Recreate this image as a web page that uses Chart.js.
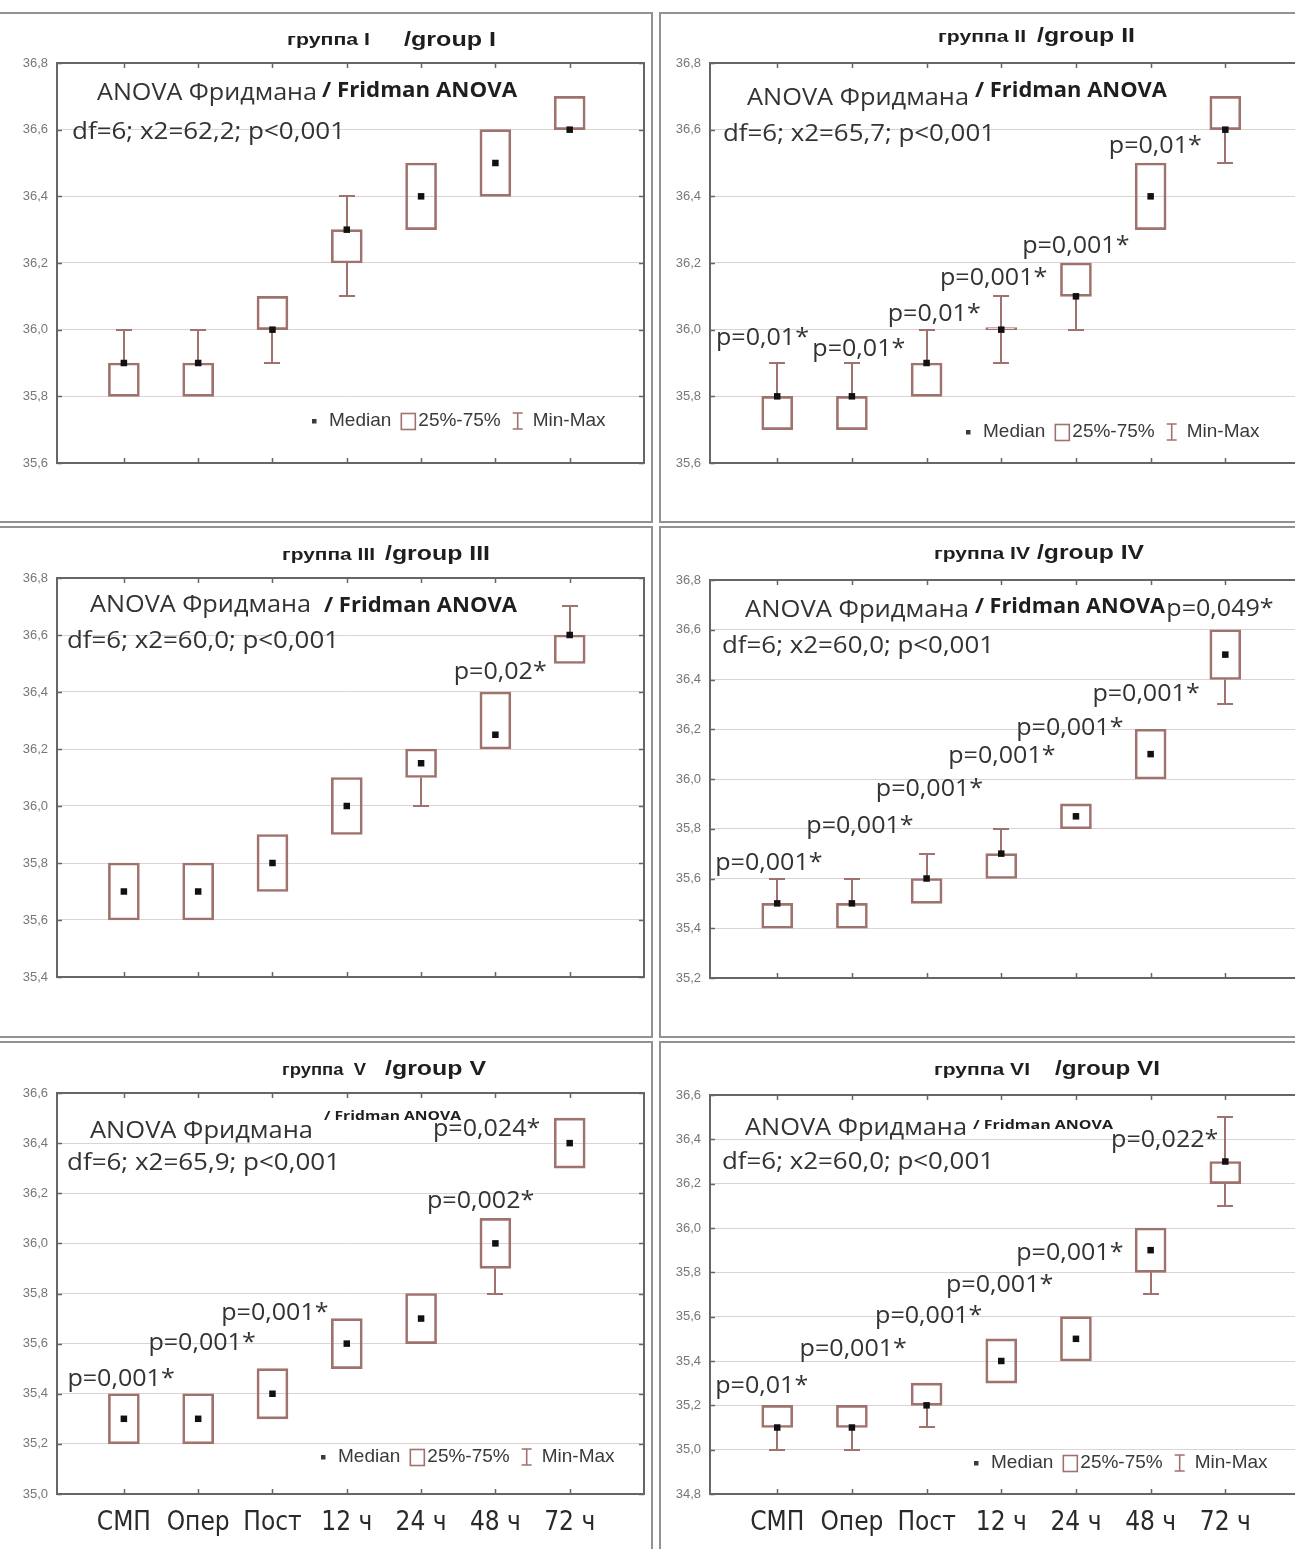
<!DOCTYPE html>
<html>
<head>
<meta charset="utf-8">
<title>Температура тела по группам</title>
<script src="https://cdn.jsdelivr.net/npm/chart.js@4.4.1/dist/chart.umd.min.js"></script>
<style>
  html, body { margin: 0; padding: 0; background: #fff; }
  #page { position: relative; width: 1295px; height: 1549px; overflow: hidden; background: #fff; }
  .frame { position: absolute; box-sizing: border-box; border: 2px solid #929292; }
  canvas { position: absolute; }
</style>
</head>
<body>
<div id="page">
  <div class="frame" style="left:-4px; top:12px;  width:657px; height:511px;"></div>
  <div class="frame" style="left:659px; top:12px;  width:650px; height:511px;"></div>
  <div class="frame" style="left:-4px; top:526px; width:657px; height:512px;"></div>
  <div class="frame" style="left:659px; top:526px; width:650px; height:512px;"></div>
  <div class="frame" style="left:-4px; top:1041px; width:657px; height:520px;"></div>
  <div class="frame" style="left:659px; top:1041px; width:650px; height:520px;"></div>

  <canvas id="g1" style="left:0px;   top:14px;"></canvas>
  <canvas id="g2" style="left:662px; top:14px;"></canvas>
  <canvas id="g3" style="left:0px;   top:528px;"></canvas>
  <canvas id="g4" style="left:662px; top:528px;"></canvas>
  <canvas id="g5" style="left:0px;   top:1043px;"></canvas>
  <canvas id="g6" style="left:662px; top:1043px;"></canvas>
</div>

<script>
// ---- time points (x axis tick labels) ----
const categories = ['СМП', 'Опер', 'Пост', '12 ч', '24 ч', '48 ч', '72 ч'];

// ---- группа I ----
const g1Median = [35.9, 35.9, 36.0, 36.3, 36.4, 36.5, 36.6];
const g1Q1     = [35.8, 35.8, 36.0, 36.2, 36.3, 36.4, 36.6];
const g1Q3     = [35.9, 35.9, 36.1, 36.3, 36.5, 36.6, 36.7];
const g1Min    = [35.8, 35.8, 35.9, 36.1, 36.3, 36.4, 36.6];
const g1Max    = [36.0, 36.0, 36.1, 36.4, 36.5, 36.6, 36.7];
const g1Stat   = 'df=6; x2=62,2; p<0,001';
const g1P      = [];

// ---- группа II ----
const g2Median = [35.8, 35.8, 35.9, 36.0, 36.1, 36.4, 36.6];
const g2Q1     = [35.7, 35.7, 35.8, 36.0, 36.1, 36.3, 36.6];
const g2Q3     = [35.8, 35.8, 35.9, 36.0, 36.2, 36.5, 36.7];
const g2Min    = [35.7, 35.7, 35.8, 35.9, 36.0, 36.3, 36.5];
const g2Max    = [35.9, 35.9, 36.0, 36.1, 36.2, 36.5, 36.7];
const g2Stat   = 'df=6; x2=65,7; p<0,001';
const g2P      = ['p=0,01*', 'p=0,01*', 'p=0,01*', 'p=0,001*', 'p=0,001*', 'p=0,01*'];

// ---- группа III ----
const g3Median = [35.7, 35.7, 35.8, 36.0, 36.15, 36.25, 36.6];
const g3Q1     = [35.6, 35.6, 35.7, 35.9, 36.1, 36.2, 36.5];
const g3Q3     = [35.8, 35.8, 35.9, 36.1, 36.2, 36.4, 36.6];
const g3Min    = [35.6, 35.6, 35.7, 35.9, 36.0, 36.2, 36.5];
const g3Max    = [35.8, 35.8, 35.9, 36.1, 36.2, 36.4, 36.7];
const g3Stat   = 'df=6; x2=60,0; p<0,001';
const g3P      = ['p=0,02*'];

// ---- группа IV ----
const g4Median = [35.5, 35.5, 35.6, 35.7, 35.85, 36.1, 36.5];
const g4Q1     = [35.4, 35.4, 35.5, 35.6, 35.8, 36.0, 36.4];
const g4Q3     = [35.5, 35.5, 35.6, 35.7, 35.9, 36.2, 36.6];
const g4Min    = [35.4, 35.4, 35.5, 35.6, 35.8, 36.0, 36.3];
const g4Max    = [35.6, 35.6, 35.7, 35.8, 35.9, 36.2, 36.6];
const g4Stat   = 'df=6; x2=60,0; p<0,001';
const g4P      = ['p=0,001*', 'p=0,001*', 'p=0,001*', 'p=0,001*', 'p=0,001*', 'p=0,001*', 'p=0,049*'];

// ---- группа V ----
const g5Median = [35.3, 35.3, 35.4, 35.6, 35.7, 36.0, 36.4];
const g5Q1     = [35.2, 35.2, 35.3, 35.5, 35.6, 35.9, 36.3];
const g5Q3     = [35.4, 35.4, 35.5, 35.7, 35.8, 36.1, 36.5];
const g5Min    = [35.2, 35.2, 35.3, 35.5, 35.6, 35.8, 36.3];
const g5Max    = [35.4, 35.4, 35.5, 35.7, 35.8, 36.1, 36.5];
const g5Stat   = 'df=6; x2=65,9; p<0,001';
const g5P      = ['p=0,001*', 'p=0,001*', 'p=0,001*', 'p=0,002*', 'p=0,024*'];

// ---- группа VI ----
const g6Median = [35.1, 35.1, 35.2, 35.4, 35.5, 35.9, 36.3];
const g6Q1     = [35.1, 35.1, 35.2, 35.3, 35.4, 35.8, 36.2];
const g6Q3     = [35.2, 35.2, 35.3, 35.5, 35.6, 36.0, 36.3];
const g6Min    = [35.0, 35.0, 35.1, 35.3, 35.4, 35.7, 36.1];
const g6Max    = [35.2, 35.2, 35.3, 35.5, 35.6, 36.0, 36.5];
const g6Stat   = 'df=6; x2=60,0; p<0,001';
const g6P      = ['p=0,01*', 'p=0,001*', 'p=0,001*', 'p=0,001*', 'p=0,001*', 'p=0,022*'];

// where each p-value label sits: [x in time-point units (left edge), y in °C (middle)]
const g1PAt = [];
const g2PAt = [[-0.82, 35.975], [0.47, 35.94], [1.48, 36.045], [2.18, 36.155], [3.28, 36.25], [4.44, 36.55]];
const g3PAt = [[4.44, 36.467]];
const g4PAt = [[-0.83, 35.662], [0.39, 35.81], [1.32, 35.958], [2.29, 36.089], [3.20, 36.202], [4.22, 36.341], [5.21, 36.683]];
const g5PAt = [[-0.76, 35.458], [0.33, 35.601], [1.31, 35.721], [4.08, 36.169], [4.16, 36.455]];
const g6PAt = [[-0.83, 35.284], [0.30, 35.45], [1.31, 35.60], [2.26, 35.743], [3.20, 35.886], [4.47, 36.397]];

// ---- styling ----
const BOX_COLOR = '#a0726d';
const FRAME_COLOR = '#666';
const GRID_COLOR = '#dcd4d4';
const HUMANIST = '"Open Sans", "Noto Sans", sans-serif';
const ARIAL = '"Liberation Sans", Arial, sans-serif';
const NARROW = '"Liberation Sans Narrow", "DejaVu Sans Condensed", "Liberation Sans", sans-serif';
const P_FONT = '23px ' + HUMANIST;
const P_STRETCH = 1.09;

const panels = [
  { id: 'g1', w: 650, h: 507, area: { left: 57, top: 49, right: 6, bottom: 58 }, yMin: 35.6, yMax: 36.8,
    median: g1Median, q1: g1Q1, q3: g1Q3, min: g1Min, max: g1Max, stat: g1Stat, p: g1P, pAt: g1PAt, xLabels: false,
    title: [['группа I', 287, 31, 83], ['/group I', 404, 32, 92]],
    anova: [97, 86, 220], fridman: [322, 83, 195, 21], df: [72, 125, 273],
    legend: { left: 255, up: 42 } },
  { id: 'g2', w: 648, h: 507, area: { left: 48, top: 49, right: 10, bottom: 58 }, yMin: 35.6, yMax: 36.8,
    median: g2Median, q1: g2Q1, q3: g2Q3, min: g2Min, max: g2Max, stat: g2Stat, p: g2P, pAt: g2PAt, xLabels: false,
    title: [['группа II', 276, 28, 88], ['/group II', 375, 28, 98]],
    anova: [85, 91, 222], fridman: [313, 83, 192, 21], df: [61, 127, 272],
    legend: { left: 256, up: 31 } },
  { id: 'g3', w: 650, h: 508, area: { left: 57, top: 50, right: 6, bottom: 59 }, yMin: 35.4, yMax: 36.8,
    median: g3Median, q1: g3Q1, q3: g3Q3, min: g3Min, max: g3Max, stat: g3Stat, p: g3P, pAt: g3PAt, xLabels: false,
    title: [['группа III', 282, 32, 93], ['/group III', 385, 32, 105]],
    anova: [90, 84, 221], fridman: [324, 84, 193, 21], df: [67, 120, 272],
    legend: null },
  { id: 'g4', w: 648, h: 508, area: { left: 48, top: 52, right: 10, bottom: 58 }, yMin: 35.2, yMax: 36.8,
    median: g4Median, q1: g4Q1, q3: g4Q3, min: g4Min, max: g4Max, stat: g4Stat, p: g4P, pAt: g4PAt, xLabels: false,
    title: [['группа IV', 272, 31, 96], ['/group IV', 375, 31, 107]],
    anova: [83, 89, 224], fridman: [313, 85, 190, 21], df: [60, 125, 272],
    legend: null },
  { id: 'g5', w: 650, h: 506, area: { left: 57, top: 50, right: 6, bottom: 55 }, yMin: 35.0, yMax: 36.6,
    median: g5Median, q1: g5Q1, q3: g5Q3, min: g5Min, max: g5Max, stat: g5Stat, p: g5P, pAt: g5PAt, xLabels: true,
    title: [['группа  V', 282, 32, 84], ['/group V', 385, 32, 101]],
    anova: [90, 95, 223], fridman: [324, 77, 137, 13], df: [67, 127, 273],
    legend: { left: 264, up: 37 } },
  { id: 'g6', w: 648, h: 506, area: { left: 48, top: 52, right: 10, bottom: 55 }, yMin: 34.8, yMax: 36.6,
    median: g6Median, q1: g6Q1, q3: g6Q3, min: g6Min, max: g6Max, stat: g6Stat, p: g6P, pAt: g6PAt, xLabels: true,
    title: [['группа VI', 272, 32, 96], ['/group VI', 393, 32, 105]],
    anova: [83, 92, 222], fridman: [311, 86, 140, 13], df: [60, 126, 272],
    legend: { left: 264, up: 31 } }
];

// text stretched/condensed horizontally to a given width
function fitText(ctx, text, x, y, font, width, color, baseline) {
  ctx.save();
  ctx.font = font;
  ctx.fillStyle = color || '#333';
  ctx.textAlign = 'left';
  ctx.textBaseline = baseline || 'alphabetic';
  const natural = ctx.measureText(text).width;
  const k = width ? width / natural : 1;
  ctx.translate(x, y);
  ctx.scale(k, 1);
  ctx.fillText(text, 0, 0);
  ctx.restore();
}

// min–max whiskers with caps, drawn under the boxes and medians
const whiskerPlugin = {
  id: 'whiskers',
  beforeDatasetsDraw(chart, args, o) {
    const { ctx, scales: { x, y } } = chart;
    ctx.save();
    ctx.strokeStyle = BOX_COLOR;
    ctx.lineWidth = 2;
    o.min.forEach((mn, i) => {
      const px = Math.round(x.getPixelForValue(i));
      const parts = [];
      if (o.max[i] > o.q3[i]) parts.push([o.q3[i], o.max[i]]);
      if (mn < o.q1[i]) parts.push([o.q1[i], mn]);
      parts.forEach(([from, to]) => {
        const y0 = y.getPixelForValue(from), y1 = Math.round(y.getPixelForValue(to));
        ctx.beginPath();
        ctx.moveTo(px, y0); ctx.lineTo(px, y1);
        ctx.moveTo(px - 8, y1); ctx.lineTo(px + 8, y1);
        ctx.stroke();
      });
    });
    ctx.restore();
  }
};

// plot frame with small inward tick marks
const framePlugin = {
  id: 'plotFrame',
  afterDatasetsDraw(chart) {
    const { ctx, chartArea: a, scales: { x, y } } = chart;
    ctx.save();
    ctx.strokeStyle = FRAME_COLOR;
    ctx.lineWidth = 2;
    ctx.strokeRect(a.left, a.top, a.right - a.left, a.bottom - a.top);
    ctx.lineWidth = 1.5;
    ctx.beginPath();
    x.ticks.forEach(t => {
      const px = Math.round(x.getPixelForValue(t.value)) + 0.5;
      ctx.moveTo(px, a.top); ctx.lineTo(px, a.top + 5);
      ctx.moveTo(px, a.bottom); ctx.lineTo(px, a.bottom - 5);
    });
    y.ticks.forEach(t => {
      const py = Math.round(y.getPixelForValue(t.value)) + 0.5;
      ctx.moveTo(a.left, py); ctx.lineTo(a.left + 5, py);
      ctx.moveTo(a.right, py); ctx.lineTo(a.right - 5, py);
    });
    ctx.stroke();
    ctx.restore();
  }
};

// titles, Friedman ANOVA statistics, p-value labels and the legend
const notesPlugin = {
  id: 'notes',
  afterDraw(chart, args, o) {
    const { ctx, chartArea: a, scales: { x, y } } = chart;
    const L = o.layout;
    fitText(ctx, L.title[0][0], L.title[0][1], L.title[0][2], 'bold 17px ' + ARIAL, L.title[0][3], '#1e1e1e');
    fitText(ctx, L.title[1][0], L.title[1][1], L.title[1][2], 'bold 21px ' + ARIAL, L.title[1][3], '#1e1e1e');
    fitText(ctx, 'ANOVA Фридмана', L.anova[0], L.anova[1], '23px ' + HUMANIST, L.anova[2], '#333');
    fitText(ctx, '/ Fridman ANOVA', L.fridman[0], L.fridman[1], 'bold ' + L.fridman[3] + 'px ' + HUMANIST, L.fridman[2], '#1e1e1e');
    fitText(ctx, L.stat, L.df[0], L.df[1], '24px ' + HUMANIST, L.df[2], '#333');

    ctx.save();
    ctx.font = P_FONT;
    L.p.forEach((txt, i) => {
      const px = x.getPixelForValue(L.pAt[i][0]);
      const py = y.getPixelForValue(L.pAt[i][1]);
      const w = ctx.measureText(txt).width * P_STRETCH;
      fitText(ctx, txt, px, py, P_FONT, w, '#333', 'middle');
    });
    ctx.restore();

    if (L.legend) {
      const lx = a.left + L.legend.left;
      const ly = a.bottom - L.legend.up;
      ctx.save();
      ctx.font = '19px ' + ARIAL;
      ctx.fillStyle = '#3a3a3a';
      ctx.textBaseline = 'middle';
      ctx.fillRect(lx, ly - 2, 4.5, 4.5);
      let cx = lx + 17;
      ctx.fillText('Median', cx, ly);
      cx += ctx.measureText('Median').width + 10;
      ctx.strokeStyle = BOX_COLOR;
      ctx.lineWidth = 1.6;
      ctx.strokeRect(cx, ly - 7.5, 14, 16);
      cx += 17;
      ctx.fillText('25%-75%', cx, ly);
      cx += ctx.measureText('25%-75%').width + 12;
      ctx.beginPath();
      ctx.moveTo(cx + 5, ly - 8); ctx.lineTo(cx + 5, ly + 8);
      ctx.moveTo(cx, ly - 8); ctx.lineTo(cx + 10, ly - 8);
      ctx.moveTo(cx, ly + 8); ctx.lineTo(cx + 10, ly + 8);
      ctx.stroke();
      cx += 20;
      ctx.fillText('Min-Max', cx, ly);
      ctx.restore();
    }
  }
};

function fmtTick(v) { return Number(v).toFixed(1).replace('.', ','); }

panels.forEach(L => {
  const cv = document.getElementById(L.id);
  cv.width = L.w; cv.height = L.h;
  cv.style.width = L.w + 'px'; cv.style.height = L.h + 'px';

  new Chart(cv, {
    type: 'bar',
    data: {
      datasets: [
        {
          type: 'scatter',
          label: 'Median',
          data: L.median.map((m, i) => ({ x: i, y: m })),
          pointStyle: 'rect',
          pointRadius: 4.6,
          pointHoverRadius: 4.6,
          backgroundColor: '#111',
          borderWidth: 0,
          showLine: false,
          order: 0
        },
        {
          type: 'bar',
          label: '25%-75%',
          data: L.q1.map((v, i) => ({ x: i, y: [v, L.q3[i]] })),
          backgroundColor: 'rgba(255,255,255,0)',
          borderColor: BOX_COLOR,
          borderWidth: 2,
          borderSkipped: false,
          barThickness: 31,
          minBarLength: 2,
          grouped: false,
          order: 1
        }
      ]
    },
    options: {
      responsive: false,
      animation: false,
      events: [],
      layout: { padding: { top: L.area.top, right: L.area.right, left: 0, bottom: 0 } },
      scales: {
        x: {
          type: 'linear',
          offset: false,
          min: -0.9,
          max: 7.0,
          grid: { display: false, drawTicks: false, offset: false },
          border: { display: false },
          afterBuildTicks: s => { s.ticks = categories.map((c, i) => ({ value: i })); },
          afterFit: s => { s.height = L.area.bottom; },
          ticks: {
            display: L.xLabels,
            autoSkip: false,
            maxRotation: 0,
            padding: 14,
            color: '#2a2a2a',
            font: { family: NARROW, size: 26 },
            callback: v => categories[v]
          }
        },
        y: {
          type: 'linear',
          min: L.yMin,
          max: L.yMax,
          grid: { color: GRID_COLOR, lineWidth: 1, drawTicks: false },
          border: { display: false },
          afterFit: s => { s.width = L.area.left; },
          ticks: {
            stepSize: 0.2,
            padding: 9,
            color: '#777',
            font: { family: ARIAL, size: 13 },
            callback: v => fmtTick(v)
          }
        }
      },
      plugins: {
        legend: { display: false },
        tooltip: { enabled: false },
        whiskers: { min: L.min, max: L.max, q1: L.q1, q3: L.q3 },
        notes: { layout: L }
      }
    },
    plugins: [whiskerPlugin, framePlugin, notesPlugin]
  });
});
</script>
</body>
</html>
